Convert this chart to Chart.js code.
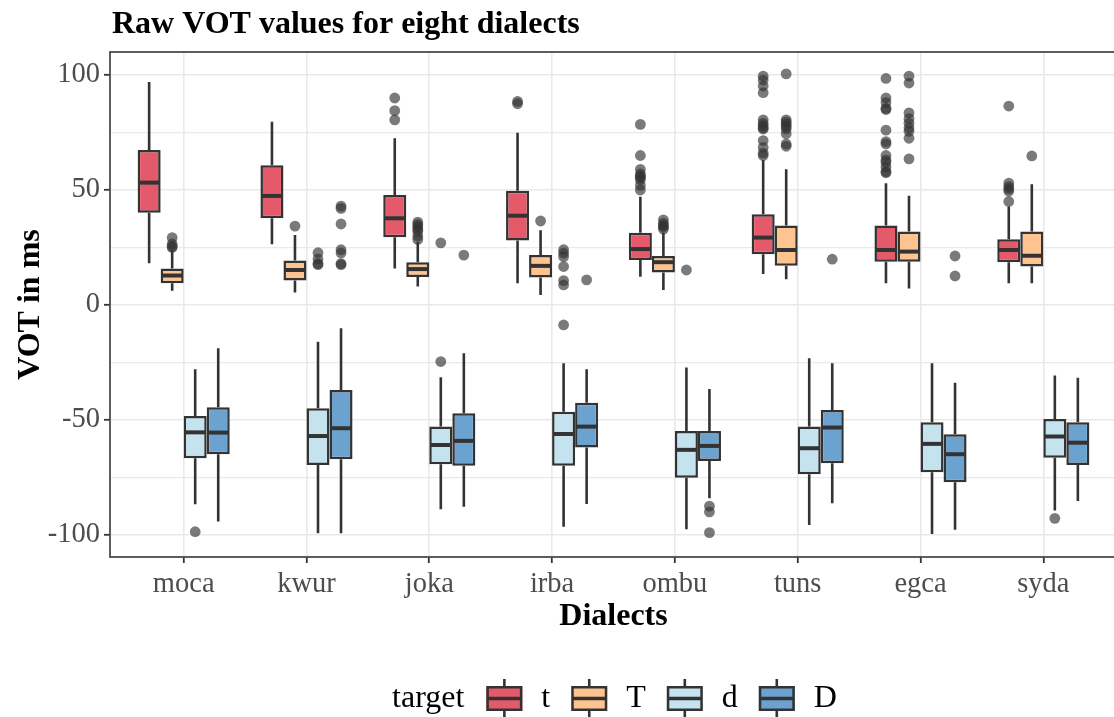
<!DOCTYPE html>
<html>
<head>
<meta charset="utf-8">
<script src="https://cdn.jsdelivr.net/npm/chart.js@4/dist/chart.umd.min.js"></script>
<style>
  html, body { margin: 0; padding: 0; background: #ffffff; overflow: hidden; }
  #wrap { width: 1120px; height: 717px; }
</style>
</head>
<body>
<div id="wrap"><canvas id="c" width="1120" height="717"></canvas></div>
<script>
// ---- data -------------------------------------------------------------
const dialects = ['moca', 'kwur', 'joka', 'irba', 'ombu', 'tuns', 'egca', 'syda'];
const targets  = ['t', 'T', 'd', 'D'];
const yTicks   = [-100, -75, -50, -25, 0, 25, 50, 75, 100];

// target t
const tQ1  = [40.1, 37.7, 29.4, 28.0, 19.6, 22.0, 18.8, 18.6];
const tMed = [53.2, 47.4, 37.7, 38.8, 24.3, 29.3, 23.9, 23.9];
const tQ3  = [67.4, 60.7, 47.8, 49.7, 31.4, 39.4, 34.5, 28.6];
const tLo  = [18.1, 26.4, 15.9, 9.4, 12.3, 13.5, 9.4, 9.4];
const tHi  = [97.0, 79.7, 72.5, 74.9, 47.1, 63.0, 52.9, 42.8];
const tOut = [
  [], [], [90, 84.5, 80.5], [88.5, 87.5],
  [78.5, 65, 59, 57, 56, 55.5, 54.5, 52, 50],
  [99.5, 97.8, 95.2, 92.3, 80.5, 79, 78, 77, 76.5, 71.5, 68.5, 66, 65],
  [98.5, 90, 88, 85.5, 85, 76, 71, 70, 65, 63, 62, 60, 58, 57.5],
  [86.5, 53, 51.5, 50.5, 49.5, 45]
];

// target T
const TQ1  = [9.4, 10.6, 12.2, 11.9, 14.1, 17.0, 18.8, 16.7];
const TMed = [12.8, 15.2, 15.6, 17.0, 18.6, 23.9, 23.2, 21.4];
const TQ3  = [15.9, 19.3, 18.6, 21.7, 21.3, 34.5, 31.9, 31.9];
const TLo  = [6.2, 5.4, 8.0, 4.3, 6.5, 11.2, 7.2, 9.4];
const THi  = [23.9, 30.4, 27.5, 32.5, 31.5, 59.0, 47.5, 52.5];
const TOut = [
  [29.3, 26.5, 25.5, 25], [34.3], [36, 35, 34, 33, 32, 30, 28.5], [36.5],
  [37, 35.5, 34.5, 34, 33],
  [100.5, 80.5, 79.5, 78.5, 77.5, 76.5, 74.5, 70, 69],
  [99.5, 96.5, 83.5, 81, 79, 77, 75.5, 72.5, 63.5],
  [64.8]
];

// target d
const dQ1  = [-66.7, -69.6, -69.3, -69.9, -75.1, -73.6, -72.8, -66.4];
const dMed = [-55.4, -57.0, -60.9, -56.1, -63.0, -62.3, -60.4, -57.2];
const dQ3  = [-48.3, -44.9, -52.9, -46.4, -54.8, -52.9, -51.0, -49.6];
const dLo  = [-86.7, -99.3, -88.8, -96.4, -97.5, -95.7, -99.6, -89.4];
const dHi  = [-28.0, -16.0, -31.4, -25.4, -27.2, -23.2, -25.4, -30.7];
const dOut = [
  [-98.6], [22.7, 20, 18, 17.5], [27, -24.6],
  [24, 22.5, 21, 16.7, 10.6, 8.7, -8.7],
  [15.2], [], [], [-92.8]
];

// target D
const DQ1  = [-64.9, -67.1, -69.9, -62.0, -67.8, -68.8, -77.1, -69.6];
const DMed = [-55.5, -53.6, -59.1, -52.9, -61.3, -53.3, -64.9, -59.9];
const DQ3  = [-44.5, -37.0, -47.1, -42.5, -54.8, -45.7, -56.2, -51.0];
const DLo  = [-94.2, -99.3, -87.7, -86.5, -84.0, -86.2, -97.8, -85.2];
const DHi  = [-18.8, -10.1, -21.0, -28.0, -36.5, -25.4, -33.8, -31.6];
const DOut = [
  [], [43, 42, 35.2, 24, 22.6, 18, 17.5], [21.7], [10.9],
  [-87.5, -90, -99], [19.9], [21.3, 12.6], []
];

// ---- styling ----------------------------------------------------------
const fills   = ['#E45A6B', '#FDC48F', '#C5E3EF', '#6CA2CF'];
const ink     = '#333333';
const serif   = '"Liberation Serif", "Times New Roman", serif';

const stats = [
  { q1: tQ1, med: tMed, q3: tQ3, lo: tLo, hi: tHi, out: tOut },
  { q1: TQ1, med: TMed, q3: TQ3, lo: TLo, hi: THi, out: TOut },
  { q1: dQ1, med: dMed, q3: dQ3, lo: dLo, hi: dHi, out: dOut },
  { q1: DQ1, med: DMed, q3: DQ3, lo: DLo, hi: DHi, out: DOut }
];

// boxes are floating bars spanning the interquartile range
const datasets = targets.map((t, k) => ({
  label: t,
  data: dialects.map((d, i) => ({ x: i + 1, y: [stats[k].q1[i], stats[k].q3[i]] })),
  backgroundColor: fills[k],
  borderColor: ink,
  borderWidth: 2.5,
  borderSkipped: false
}));

// whiskers, outliers, medians, frame, titles and the legend
const boxParts = {
  id: 'boxParts',
  beforeDatasetsDraw(chart) {
    const { ctx, chartArea: a, scales: { y } } = chart;
    ctx.save();
    ctx.beginPath();
    ctx.rect(a.left, a.top, a.right - a.left, a.bottom - a.top);
    ctx.clip();
    chart.data.datasets.forEach((ds, k) => {
      const s = stats[k];
      chart.getDatasetMeta(k).data.forEach((bar, i) => {
        const x = bar.x;
        ctx.fillStyle = 'rgba(51,51,51,0.65)';
        s.out[i].forEach(v => {
          ctx.beginPath();
          ctx.arc(x, y.getPixelForValue(v), 5.4, 0, Math.PI * 2);
          ctx.fill();
        });
        ctx.strokeStyle = ink;
        ctx.lineWidth = 2.6;
        ctx.beginPath();
        ctx.moveTo(x, y.getPixelForValue(s.hi[i]));
        ctx.lineTo(x, y.getPixelForValue(s.q3[i]));
        ctx.moveTo(x, y.getPixelForValue(s.q1[i]));
        ctx.lineTo(x, y.getPixelForValue(s.lo[i]));
        ctx.stroke();
      });
    });
    ctx.restore();
  },
  afterDatasetsDraw(chart) {
    const { ctx, chartArea: a, scales: { y } } = chart;
    ctx.save();
    ctx.strokeStyle = ink;
    ctx.lineWidth = 4;
    chart.data.datasets.forEach((ds, k) => {
      chart.getDatasetMeta(k).data.forEach((bar, i) => {
        const py = y.getPixelForValue(stats[k].med[i]);
        ctx.beginPath();
        ctx.moveTo(bar.x - bar.width / 2 + 1, py);
        ctx.lineTo(bar.x + bar.width / 2 - 1, py);
        ctx.stroke();
      });
    });
    // panel frame
    ctx.strokeStyle = '#4d4d4d';
    ctx.lineWidth = 1.8;
    ctx.strokeRect(a.left, a.top, a.right - a.left, a.bottom - a.top);
    ctx.restore();
  },
  afterDraw(chart) {
    const { ctx, chartArea: a } = chart;
    const midX = (a.left + a.right) / 2;
    ctx.save();
    ctx.fillStyle = '#000000';

    // title
    ctx.font = 'bold 32px ' + serif;
    ctx.textAlign = 'left';
    ctx.textBaseline = 'alphabetic';
    ctx.fillText('Raw VOT values for eight dialects', a.left + 2, 33);

    // x axis title
    ctx.textAlign = 'center';
    ctx.fillText('Dialects', midX, 625);

    // y axis title
    ctx.save();
    ctx.translate(39, (a.top + a.bottom) / 2);
    ctx.rotate(-Math.PI / 2);
    ctx.fillText('VOT in ms', 0, 0);
    ctx.restore();

    // legend
    ctx.font = '32px ' + serif;
    ctx.textAlign = 'left';
    const keyW = 36, keyH = 25, baseY = 707, keyMid = 698.5;
    const parts = [];
    let w = ctx.measureText('target').width + 22;
    targets.forEach((t, k) => {
      const tw = ctx.measureText(t).width;
      parts.push(tw);
      w += keyW + 19 + tw + (k < targets.length - 1 ? 21 : 0);
    });
    let x = midX - w / 2 + 1;
    ctx.fillStyle = '#000000';
    ctx.fillText('target', x, baseY);
    x += ctx.measureText('target').width + 22;
    targets.forEach((t, k) => {
      // whisker stubs
      ctx.strokeStyle = ink;
      ctx.lineWidth = 2.6;
      ctx.beginPath();
      ctx.moveTo(x + keyW / 2, keyMid - keyH / 2 - 7);
      ctx.lineTo(x + keyW / 2, keyMid + keyH / 2 + 7);
      ctx.stroke();
      // box
      ctx.fillStyle = fills[k];
      ctx.fillRect(x, keyMid - keyH / 2, keyW, keyH);
      ctx.lineWidth = 2.5;
      ctx.strokeRect(x + 1.25, keyMid - keyH / 2 + 1.25, keyW - 2.5, keyH - 2.5);
      // median
      ctx.lineWidth = 3.5;
      ctx.beginPath();
      ctx.moveTo(x + 1, keyMid);
      ctx.lineTo(x + keyW - 1, keyMid);
      ctx.stroke();
      x += keyW + 19;
      ctx.fillStyle = '#000000';
      ctx.fillText(t, x, baseY);
      x += parts[k] + 21;
    });
    ctx.restore();
  }
};

new Chart(document.getElementById('c'), {
  type: 'bar',
  data: { datasets },
  options: {
    responsive: false,
    animation: false,
    events: [],
    layout: { padding: { top: 52, right: 3, left: 0, bottom: 0 } },
    datasets: { bar: { categoryPercentage: 0.75, barPercentage: 1.0, grouped: true } },
    plugins: { legend: { display: false }, title: { display: false }, tooltip: { enabled: false } },
    scales: {
      x: {
        type: 'linear',
        min: 0.4,
        max: 8.6,
        offset: false,
        afterBuildTicks: s => { s.ticks = dialects.map((d, i) => ({ value: i + 1 })); },
        afterFit: s => { s.height = 160; },
        ticks: {
          autoSkip: false,
          maxRotation: 0,
          padding: 4,
          color: '#4d4d4d',
          font: { family: serif, size: 28.5 },
          callback: v => dialects[Math.round(v) - 1] || ''
        },
        grid: { offset: false, color: '#e9e9e9', lineWidth: 1.6, tickColor: ink, tickLength: 6, tickWidth: 1.8 },
        border: { display: false }
      },
      y: {
        type: 'linear',
        min: -109.6,
        max: 110,
        afterBuildTicks: s => { s.ticks = yTicks.map(v => ({ value: v })); },
        afterFit: s => { s.width = 110; },
        ticks: {
          padding: 4,
          color: '#4d4d4d',
          font: { family: serif, size: 28.5 },
          callback: v => (v % 50 === 0 ? String(v) : '')
        },
        grid: {
          color: '#e9e9e9',
          lineWidth: c => (c.tick && c.tick.value % 50 === 0 ? 1.6 : 1.2),
          tickColor: c => (c.tick && c.tick.value % 50 === 0 ? ink : 'rgba(0,0,0,0)'),
          tickLength: 6,
          tickWidth: 1.8
        },
        border: { display: false }
      }
    }
  },
  plugins: [boxParts]
});
</script>
</body>
</html>
